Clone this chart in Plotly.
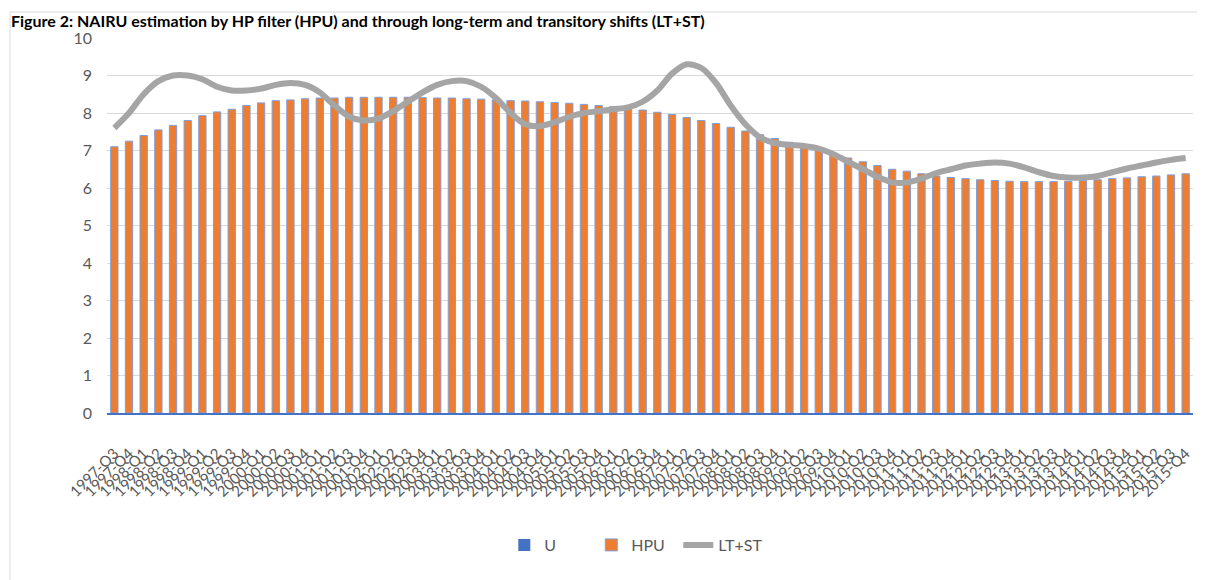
import plotly.graph_objects as go

# quarters 1997-Q3 .. 2015-Q4
quarters = ['1997-Q3', '1997-Q4'] + [f'{y}-Q{q}' for y in range(1998, 2016) for q in range(1, 5)]

hpu = [7.10, 7.25, 7.40, 7.55, 7.67, 7.80, 7.93, 8.03, 8.10, 8.20,
       8.27, 8.33, 8.35, 8.38, 8.40, 8.40, 8.42, 8.42, 8.42, 8.42,
       8.42, 8.41, 8.40, 8.40, 8.38, 8.37, 8.35, 8.33, 8.32, 8.30,
       8.28, 8.26, 8.23, 8.20, 8.17, 8.12, 8.08, 8.02, 7.96, 7.88,
       7.80, 7.72, 7.62, 7.52, 7.42, 7.32, 7.22, 7.10, 7.00, 6.90,
       6.80, 6.70, 6.60, 6.50, 6.45, 6.38, 6.32, 6.28, 6.25, 6.22,
       6.20, 6.18, 6.17, 6.17, 6.17, 6.18, 6.20, 6.22, 6.25, 6.27,
       6.30, 6.32, 6.35, 6.38]

u = [0] * len(quarters)

lt_st = [7.60, 8.00, 8.50, 8.85, 9.00, 9.00, 8.90, 8.70, 8.60, 8.60,
         8.65, 8.75, 8.80, 8.75, 8.55, 8.20, 7.90, 7.80, 7.85, 8.05,
         8.30, 8.55, 8.75, 8.85, 8.85, 8.70, 8.40, 8.00, 7.70, 7.65,
         7.75, 7.90, 8.00, 8.05, 8.10, 8.15, 8.30, 8.60, 9.05, 9.30,
         9.20, 8.80, 8.20, 7.70, 7.35, 7.20, 7.15, 7.12, 7.05, 6.90,
         6.70, 6.50, 6.30, 6.15, 6.15, 6.25, 6.40, 6.50, 6.60, 6.65,
         6.68, 6.65, 6.55, 6.42, 6.32, 6.28, 6.28, 6.32, 6.42, 6.52,
         6.60, 6.68, 6.75, 6.80]

FONT = 'Lato'
GREY_TXT = '#595959'

fig = go.Figure()
fig.add_trace(go.Bar(x=quarters, y=u, name='U', width=0.5,
                     marker=dict(color='#4472C4', line=dict(width=0))))
fig.add_trace(go.Bar(x=quarters, y=hpu, name='HPU', width=0.5,
                     marker=dict(color='#ED7D31', line=dict(color='#7F9FDB', width=1))))
fig.add_trace(go.Scatter(x=quarters, y=lt_st, name='LT+ST', mode='lines',
                         line=dict(color='#A5A5A5', width=6, shape='spline', smoothing=0.8)))

# page body has an 8px margin, so margins are shifted to compensate
fig.update_layout(
    width=1205, height=580,
    margin=dict(l=99, r=20, t=30, b=175),
    paper_bgcolor='white', plot_bgcolor='white',
    barmode='overlay',
    font=dict(family=FONT, color=GREY_TXT, size=15),
    showlegend=True,
    legend=dict(orientation='h', x=0.486, xanchor='center', y=-0.352, yanchor='middle',
                font=dict(size=16, color=GREY_TXT), traceorder='normal', itemwidth=30,
                entrywidth=42, entrywidthmode='pixels'),
    xaxis=dict(type='category', tickmode='linear', dtick=1, tickangle=-45,
               tickfont=dict(size=15, color=GREY_TXT), showgrid=False,
               showline=True, linecolor='#4472C4', linewidth=1.5, ticks='',
               ticklabelstandoff=24),
    yaxis=dict(range=[0, 10], dtick=1, showgrid=True, gridcolor='#D9D9D9', gridwidth=1,
               zeroline=False, showline=False, tickfont=dict(size=16, color=GREY_TXT),
               ticklabelstandoff=14),
    shapes=[dict(type='rect', xref='paper', yref='paper', x0=-0.0893, x1=1.2, y0=-1.0, y1=1.0693,
                 line=dict(color='#D9D9D9', width=1), fillcolor='rgba(0,0,0,0)', layer='below')],
    annotations=[dict(text='<b>Figure 2: NAIRU estimation by HP filter (HPU) and through long-term and transitory shifts (LT+ST)</b>',
                      xref='paper', yref='paper', x=-0.0902, y=1.0773, xanchor='left', yanchor='top',
                      showarrow=False, font=dict(family=FONT, size=16, color='black'))],
)

fig.write_html('out.html')
